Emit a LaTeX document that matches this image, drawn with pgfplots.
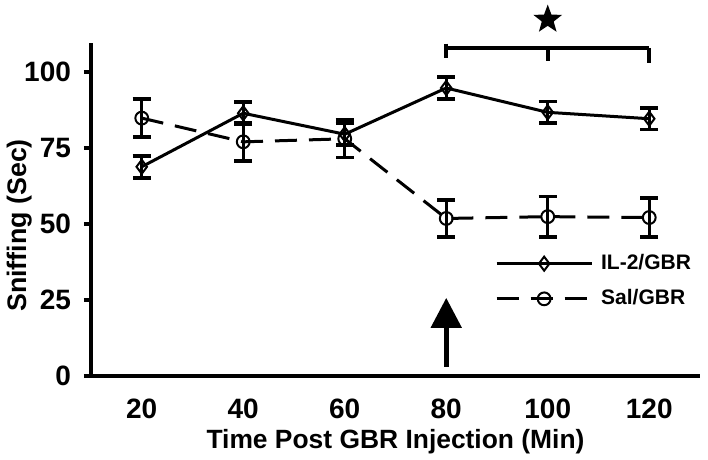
\documentclass[border=0pt]{standalone}
\usepackage{fontspec}
\setmainfont{Liberation Sans}
\usepackage{pgfplots}
\pgfplotsset{compat=1.18}
\usetikzlibrary{arrows.meta,shapes.geometric}

\begin{document}
\begin{tikzpicture}
% frame of the reference picture (1px = 0.5pt), axis corner at (0,0)
\path[use as bounding box] (-45.5pt,-42pt) rectangle (308.5pt,188pt);
\begin{axis}[
    at={(0,0)}, anchor=south west,
    scale only axis,
    width=304.5pt, height=166.5pt,
    clip=false,
    axis x line=bottom, axis y line=left,
    axis line style={-, line width=2pt},
    xmin=0.5, xmax=6.5,
    ymin=0, ymax=109.5,
    xtick={1,...,6},
    xticklabels={20,40,60,80,100,120},
    x tick style={draw=none},
    minor xtick={0.5,1.5,...,6.5},
    minor x tick style={line width=2pt, black},
    minor tick length=3.5pt,
    ytick={0,25,50,75,100},
    y tick style={line width=2pt, black},
    major tick length=3.5pt,
    tick align=outside,
    tick label style={font=\fontsize{14}{16}\selectfont\bfseries},
    /pgf/number format/assume math mode=true,
    xticklabel style={yshift=-4.5pt},
    yticklabel style={xshift=-3pt},
    xlabel={Time Post GBR Injection (Min)},
    ylabel={Sniffing (Sec)},
    xlabel style={font=\fontsize{13.2}{16}\selectfont\bfseries,
        at={(axis description cs:0.5,-0.197)}, anchor=center},
    ylabel style={font=\fontsize{13.4}{16}\selectfont\bfseries,
        at={(axis description cs:-0.118,0.452)}, anchor=center},
    legend style={at={(axis description cs:0.663,0.378)}, anchor=north west,
        draw=none, fill=none, font=\fontsize{10.5}{12}\selectfont\bfseries,
        row sep=4.5pt, inner sep=0pt,
        nodes={inner xsep=4pt}},
    legend cell align=left,
    legend image code/.code={
        \draw[mark repeat=2, mark phase=2, #1]
            plot coordinates {(0pt,0pt) (23.75pt,0pt) (47.5pt,0pt)};
    },
    error bars/y dir=both, error bars/y explicit,
    error bars/error bar style={line width=1.5pt, solid, black},
    error bars/error mark options={rotate=90, line width=1.8pt, mark size=4.5pt, black, solid},
]
\addplot[black, line width=1.5pt, mark=diamond, mark size=3.5pt,
    mark options={solid, line width=1pt}]
    coordinates {
    (1,68.8) +- (0,3.6)
    (2,86.4) +- (0,3.7)
    (3,79.5) +- (0,3.5)
    (4,94.7) +- (0,3.7)
    (5,86.7) +- (0,3.6)
    (6,84.6) +- (0,3.6)
};
\addplot[black, line width=1.5pt, dash pattern=on 11pt off 6pt, mark=o, mark size=3.2pt,
    mark options={solid, line width=1pt}]
    coordinates {
    (1,84.8) +- (0,6.2)
    (2,77.0) +- (0,6.3)
    (3,78.0) +- (0,6.2)
    (4,51.8) +- (0,6.1)
    (5,52.4) +- (0,6.6)
    (6,52.1) +- (0,6.4)
};
\legend{IL-2/GBR, Sal/GBR}

% significance bracket and star
\draw[line width=2pt] (axis cs:4,107.9) -- (axis cs:6,107.9);
\draw[line width=2pt] (axis cs:4,109.3) -- (axis cs:4,104.5);
\draw[line width=2pt] (axis cs:5,107.9) -- (axis cs:5,103.6);
\draw[line width=2pt] (axis cs:6,107.9) -- (axis cs:6,103.0);
\node[star, star points=5, star point ratio=2.4, fill=black, inner sep=0pt,
    minimum size=15pt] at (axis cs:5,117.2) {};

% injection arrow
\draw[line width=2.5pt, -{Triangle[width=15pt, length=15pt]}]
    (axis cs:4,3) -- (axis cs:4,25.7);
\end{axis}
\end{tikzpicture}
\end{document}
